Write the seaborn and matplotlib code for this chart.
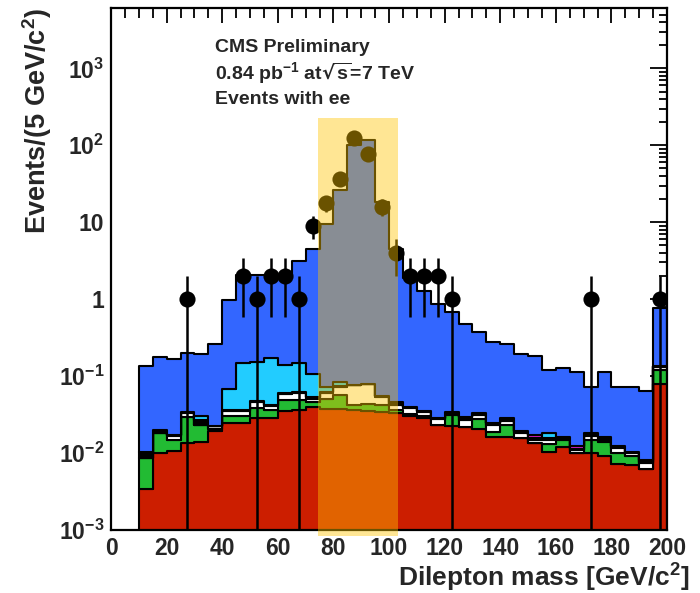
import numpy as np
import pandas as pd
import matplotlib
matplotlib.use("Agg")
import matplotlib.pyplot as plt
import matplotlib.ticker as mticker
import matplotlib.transforms as mtransforms
from matplotlib.patches import Rectangle
import seaborn as sns

# ---------------- data (5 GeV bins from 10 to 200 GeV/c^2) ----------------
bin_lo = list(range(10, 200, 5))

# cumulative level (top edge) of each stacked layer
red_top = [0.0034, 0.0100, 0.0105, 0.0134, 0.0140, 0.0193, 0.0243, 0.0245, 0.0282, 0.0285,
           0.0350, 0.0360, 0.0400, 0.0375, 0.0375, 0.0363, 0.0355, 0.0345, 0.0330, 0.0303,
           0.0285, 0.0235, 0.0225, 0.0220, 0.0203, 0.0163, 0.0163, 0.0155, 0.0136, 0.0104,
           0.0121, 0.0100, 0.0101, 0.0092, 0.0073, 0.0070, 0.0063, 0.0800]
green_top = [0.0087, 0.0180, 0.0150, 0.0290, 0.0231, 0.0204, 0.0303, 0.0303, 0.0380, 0.0363,
             0.0488, 0.0488, 0.0460, 0.0500, 0.0566, 0.0418, 0.0430, 0.0418, 0.0360, 0.0320,
             0.0300, 0.0235, 0.0312, 0.0220, 0.0276, 0.0190, 0.0231, 0.0155, 0.0136, 0.0131,
             0.0150, 0.0100, 0.0149, 0.0141, 0.0099, 0.0091, 0.0063, 0.1200]
white_top = [0.0087, 0.0180, 0.0166, 0.0330, 0.0231, 0.0222, 0.0350, 0.0350, 0.0460, 0.0405,
             0.0580, 0.0610, 0.0510, 0.0605, 0.0727, 0.0760, 0.0780, 0.0536, 0.0420, 0.0380,
             0.0340, 0.0275, 0.0330, 0.0268, 0.0310, 0.0235, 0.0262, 0.0180, 0.0150, 0.0150,
             0.0155, 0.0110, 0.0165, 0.0150, 0.0115, 0.0099, 0.0074, 0.1320]
black_top = [0.0104, 0.0199, 0.0172, 0.0345, 0.0270, 0.0228, 0.0363, 0.0363, 0.0479, 0.0418,
             0.0596, 0.0630, 0.0530, 0.0620, 0.0740, 0.0770, 0.0790, 0.0545, 0.0430, 0.0400,
             0.0355, 0.0282, 0.0340, 0.0290, 0.0334, 0.0243, 0.0282, 0.0193, 0.0155, 0.0155,
             0.0162, 0.0113, 0.0180, 0.0162, 0.0124, 0.0104, 0.0076, 0.1350]
magenta_top = [0.0104, 0.0199, 0.0172, 0.0345, 0.0270, 0.0228, 0.0363, 0.0363, 0.0479, 0.0418,
               0.0596, 0.0630, 0.0530, 0.0620, 0.0740, 0.0770, 0.0790, 0.0545, 0.0430, 0.0400,
               0.0355, 0.0282, 0.0340, 0.0290, 0.0334, 0.0243, 0.0282, 0.0193, 0.0171, 0.0155,
               0.0162, 0.0125, 0.0180, 0.0162, 0.0124, 0.0104, 0.0082, 0.1350]
cyan_top = [0.0104, 0.0199, 0.0172, 0.0345, 0.0300, 0.0228, 0.0690, 0.1460, 0.1530, 0.1700,
            0.1390, 0.1460, 0.1080, 0.0727, 0.0835, 0.0770, 0.0790, 0.0545, 0.0465, 0.0400,
            0.0355, 0.0282, 0.0340, 0.0290, 0.0334, 0.0243, 0.0282, 0.0193, 0.0171, 0.0180,
            0.0162, 0.0125, 0.0180, 0.0162, 0.0124, 0.0104, 0.0082, 0.1350]
total_top = [0.135, 0.178, 0.169, 0.201, 0.193, 0.261, 0.97, 2.05, 2.05, 2.05,
             2.05, 3.15, 4.5, 9.4, 26.0, 100.0, 116.0, 18.4, 4.5, 1.9,
             1.26, 0.87, 0.68, 0.475, 0.376, 0.276, 0.258, 0.193, 0.182, 0.120,
             0.126, 0.114, 0.073, 0.112, 0.073, 0.072, 0.065, 0.757]

data_counts = [0, 0, 0, 1, 0, 0, 0, 2, 1, 2, 2, 1, 9, 18, 37, 126, 78, 16, 4, 2, 2, 2, 1,
               0, 0, 0, 0, 0, 0, 0, 0, 0, 1, 0, 0, 0, 0, 1]

layer_names = ["red", "green", "white", "black", "magenta", "cyan", "blue"]
layer_tops = [red_top, green_top, white_top, black_top, magenta_top, cyan_top, total_top]
layer_colors = {"red": "#CC1E00", "green": "#22BB33", "white": "#FFFFFF",
                "black": "#000000", "magenta": "#EE22DD", "cyan": "#22CCFF",
                "blue": "#3366FF"}

band_lo, band_hi = 74.5, 103.2

# ---------------- build long table ----------------
bin_width = 5
centers = np.array(bin_lo) + bin_width / 2
rows = []
prev = np.zeros(len(bin_lo))
for name, top in zip(layer_names, layer_tops):
    top = np.array(top, dtype=float)
    w = np.clip(top - prev, 0, None)
    prev = np.maximum(prev, top)
    for c, wi in zip(centers, w):
        rows.append({"mass": float(c), "w": float(wi), "comp": name})
df = pd.DataFrame(rows)

# ---------------- style ----------------
sns.set_theme(style="white")
plt.rcParams["font.family"] = ["Liberation Sans", "DejaVu Sans"]
plt.rcParams["font.weight"] = "bold"
plt.rcParams["mathtext.default"] = "regular"

fig = plt.figure(figsize=(7.0, 5.93), dpi=100)
ax = fig.add_axes([0.1586, 0.1062, 0.7943, 0.8795])

sns.histplot(data=df, x="mass", weights="w", hue="comp",
             hue_order=layer_names[::-1], palette=layer_colors,
             multiple="stack", element="step", fill=True,
             binwidth=bin_width, binrange=(10, 200),
             edgecolor="black", linewidth=1.5, alpha=1, legend=False, ax=ax)

ax.set_yscale("log")
ax.set_xlim(0, 200)
ax.set_ylim(1e-3, 6000)

# data points with sqrt(N) errors
cnt = np.array(data_counts, dtype=float)
m = cnt > 0
xd, yd = centers[m], cnt[m]
err = np.sqrt(yd)
ax.errorbar(xd, yd, yerr=[err, err], fmt="none", ecolor="black",
            elinewidth=1.8, capsize=0, zorder=4)
sns.scatterplot(x=xd, y=yd, color="black", s=135, linewidth=0,
                zorder=5, ax=ax, legend=False)

# highlighted Z window
trans = mtransforms.blended_transform_factory(ax.transData, ax.transAxes)
ax.add_patch(Rectangle((band_lo, -0.012), band_hi - band_lo, 0.802,
                       transform=trans, facecolor="#FFC400", alpha=0.42,
                       edgecolor="none", zorder=8, clip_on=False))

# ticks ROOT-style
ax.xaxis.set_major_locator(mticker.MultipleLocator(20))
ax.xaxis.set_minor_locator(mticker.MultipleLocator(5))
ax.yaxis.set_major_locator(mticker.LogLocator(base=10, numticks=20))
ax.yaxis.set_minor_locator(mticker.LogLocator(base=10, subs=np.arange(2, 10), numticks=20))


def yfmt(v, pos):
    e = int(round(np.log10(v)))
    if e == 0:
        return "1"
    if e == 1:
        return "10"
    return "10$^{%d}$" % e


ax.yaxis.set_major_formatter(mticker.FuncFormatter(yfmt))
ax.yaxis.set_minor_formatter(mticker.NullFormatter())
ax.tick_params(axis="both", which="both", direction="in", top=True, right=True,
               color="black", width=1.3)
ax.tick_params(axis="x", which="major", length=11, pad=5, labelsize=16.5)
ax.tick_params(axis="x", which="minor", length=7)
ax.tick_params(axis="y", which="major", length=12, pad=5, labelsize=16.5)
ax.tick_params(axis="y", which="minor", length=6)
for s in ax.spines.values():
    s.set_color("black")
    s.set_linewidth(1.6)
ax.set_xlabel("")
ax.set_ylabel("")

# titles
fig.text(690 / 700, 1 - 578 / 593, "Dilepton mass [GeV/c$^{2}$]", ha="right",
         va="center", fontsize=19, fontweight="bold")
fig.text(37 / 700, 1 - 8 / 593, "Events/(5 GeV/c$^{2}$)", ha="center", va="top",
         rotation=90, fontsize=19.5, fontweight="bold")

fig.text(215 / 700, 1 - 47 / 593, "CMS Preliminary", ha="left", va="center",
         fontsize=14, fontweight="bold")
fig.text(215 / 700, 1 - 73 / 593, "0.84 pb$^{-1}$ at$\\sqrt{s}$=7 TeV", ha="left",
         va="center", fontsize=14, fontweight="bold")
fig.text(215 / 700, 1 - 100 / 593, "Events with ee", ha="left", va="center",
         fontsize=14, fontweight="bold")

fig.savefig("out.png", dpi=100)
